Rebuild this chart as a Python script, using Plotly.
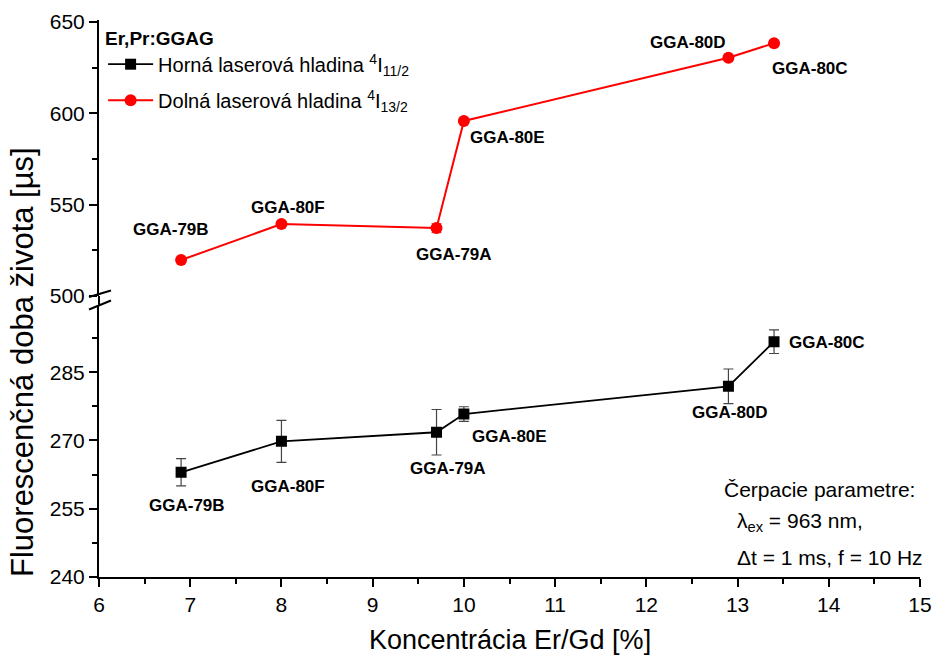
import plotly.graph_objects as go

# ---- data ----
conc = [6.9, 8.0, 9.7, 10.0, 12.9, 13.4]
samples = ["GGA-79B", "GGA-80F", "GGA-79A", "GGA-80E", "GGA-80D", "GGA-80C"]
upper_tau = [263.0, 269.8, 271.8, 275.8, 281.9, 291.7]      # 4I11/2 [us]
upper_err = [3.0, 4.6, 5.0, 1.6, 3.8, 2.6]
lower_tau = [519.6, 539.3, 537.1, 595.8, 630.4, 638.4]      # 4I13/2 [us]
lower_err = [1.0, 1.0, 2.5, 1.0, 1.0, 1.0]

x_ticks = [6, 7, 8, 9, 10, 11, 12, 13, 14, 15]
y_low_ticks = [240, 255, 270, 285]
y_high_ticks = [500, 550, 600, 650]

# ---- label offsets (pixels) ----
lower_lab_dx = [-10, 7, 17, 44, -40, 36]
lower_lab_dy = [31, 17, -26, -17, 15, -25]
upper_lab_dx = [6, 7, 11, 46, 2, 53]
upper_lab_dy = [-33, -45, -36, -22, -26, -1]

FONT = "Arial, Liberation Sans, sans-serif"

# layout geometry (pixels)
L, R, T, B = 99, 14, 20, 80
H = 657 - T - B
W = 934 - L - R
px_x0 = 577
top_dom0 = (px_x0 - 296) / H
low_dom1 = (px_x0 - 304.8) / H

fig = go.Figure()

fig.add_trace(go.Scatter(
    x=conc, y=upper_tau, yaxis="y", mode="lines+markers",
    name="Horná laserová hladina <sup>4</sup>I<sub>11/2</sub>", legendgroup="a",
    line=dict(color="black", width=1.8),
    marker=dict(symbol="square", size=11, color="black"),
    error_y=dict(type="data", array=upper_err, visible=True, color="#444444", thickness=1.2, width=5),
))
fig.add_trace(go.Scatter(
    x=conc, y=lower_tau, yaxis="y2", mode="lines+markers",
    name="Dolná laserová hladina <sup>4</sup>I<sub>13/2</sub>", legendgroup="b",
    line=dict(color="#ff0000", width=2),
    marker=dict(symbol="circle", size=12, color="#ff0000"),
    error_y=dict(type="data", array=lower_err, visible=True, color="#e06060", thickness=1.2, width=5),
))

ann = []
for i, s in enumerate(samples):
    ann.append(dict(x=conc[i], y=lower_tau[i], xref="x", yref="y2", text="<b>%s</b>" % s,
                    showarrow=False, xshift=lower_lab_dx[i], yshift=lower_lab_dy[i],
                    font=dict(family=FONT, size=17, color="black")))
    ann.append(dict(x=conc[i], y=upper_tau[i], xref="x", yref="y", text="<b>%s</b>" % s,
                    showarrow=False, xshift=upper_lab_dx[i], yshift=upper_lab_dy[i],
                    font=dict(family=FONT, size=17, color="black")))


def px2paper_x(px):
    return (px - L) / W


def px2paper_y(py):
    return (px_x0 - py) / H


ann.append(dict(x=px2paper_x(722), y=px2paper_y(489), xref="paper", yref="paper", xanchor="left", yanchor="middle",
                text="Čerpacie parametre:", showarrow=False, font=dict(family=FONT, size=21, color="black")))
ann.append(dict(x=px2paper_x(735), y=px2paper_y(522), xref="paper", yref="paper", xanchor="left", yanchor="middle",
                text="λ<sub>ex</sub> = 963 nm,", showarrow=False, font=dict(family=FONT, size=21, color="black")))
ann.append(dict(x=px2paper_x(735), y=px2paper_y(557), xref="paper", yref="paper", xanchor="left", yanchor="middle",
                text="Δt = 1 ms, f = 10 Hz", showarrow=False, font=dict(family=FONT, size=21, color="black")))

# axis titles
ann.append(dict(x=px2paper_x(22), y=px2paper_y(362), xref="paper", yref="paper", xanchor="center", yanchor="middle",
                text="Fluorescenčná doba života [µs]", textangle=-90, showarrow=False,
                font=dict(family=FONT, size=31, color="black")))
ann.append(dict(x=px2paper_x(510), y=px2paper_y(640), xref="paper", yref="paper", xanchor="center", yanchor="middle",
                text="Koncentrácia Er/Gd [%]", showarrow=False,
                font=dict(family=FONT, size=27, color="black")))

shapes = [
    dict(type="line", xref="paper", yref="paper", x0=0, x1=0, y0=low_dom1, y1=top_dom0,
         line=dict(color="black", width=2)),
    dict(type="line", xref="paper", yref="paper", x0=px2paper_x(89), x1=px2paper_x(111),
         y0=px2paper_y(297), y1=px2paper_y(290.5), line=dict(color="black", width=2)),
    dict(type="line", xref="paper", yref="paper", x0=px2paper_x(89), x1=px2paper_x(111),
         y0=px2paper_y(309.5), y1=px2paper_y(300.5), line=dict(color="black", width=2)),
]

axis_common = dict(showgrid=False, zeroline=False, showline=True, linecolor="black", linewidth=2,
                   ticks="outside", ticklen=8, tickwidth=1.5, tickcolor="black", automargin=False,
                   tickfont=dict(family=FONT, size=21, color="black"))

fig.update_layout(
    width=934, height=657,
    margin=dict(l=L, r=R, t=T, b=B, autoexpand=False),
    paper_bgcolor="white", plot_bgcolor="white",
    font=dict(family=FONT, color="black"),
    xaxis=dict(range=[6, 15], tickvals=x_ticks, anchor="y",
               minor=dict(dtick=0.5, ticks="outside", ticklen=5, tickwidth=1.5, tickcolor="black"),
               **axis_common),
    yaxis=dict(range=[240, 299.8], domain=[0, low_dom1], tickvals=y_low_ticks, anchor="x",
               minor=dict(tick0=240, dtick=7.5, ticks="outside", ticklen=5, tickwidth=1.5, tickcolor="black"),
               **axis_common),
    yaxis2=dict(range=[499.9, 651.1], domain=[top_dom0, 1], tickvals=y_high_ticks, anchor="x",
                minor=dict(tick0=500, dtick=25, ticks="outside", ticklen=5, tickwidth=1.5, tickcolor="black"),
                **axis_common),
    legend=dict(x=0.005, y=1, xanchor="left", yanchor="top", bgcolor="rgba(0,0,0,0)",
                traceorder="grouped", tracegroupgap=7,
                title=dict(text="<b>Er,Pr:GGAG</b>", font=dict(family=FONT, size=19, color="black")),
                font=dict(family=FONT, size=20, color="black"), itemwidth=45),
    annotations=ann,
    shapes=shapes,
)

fig.write_html("out.html")
